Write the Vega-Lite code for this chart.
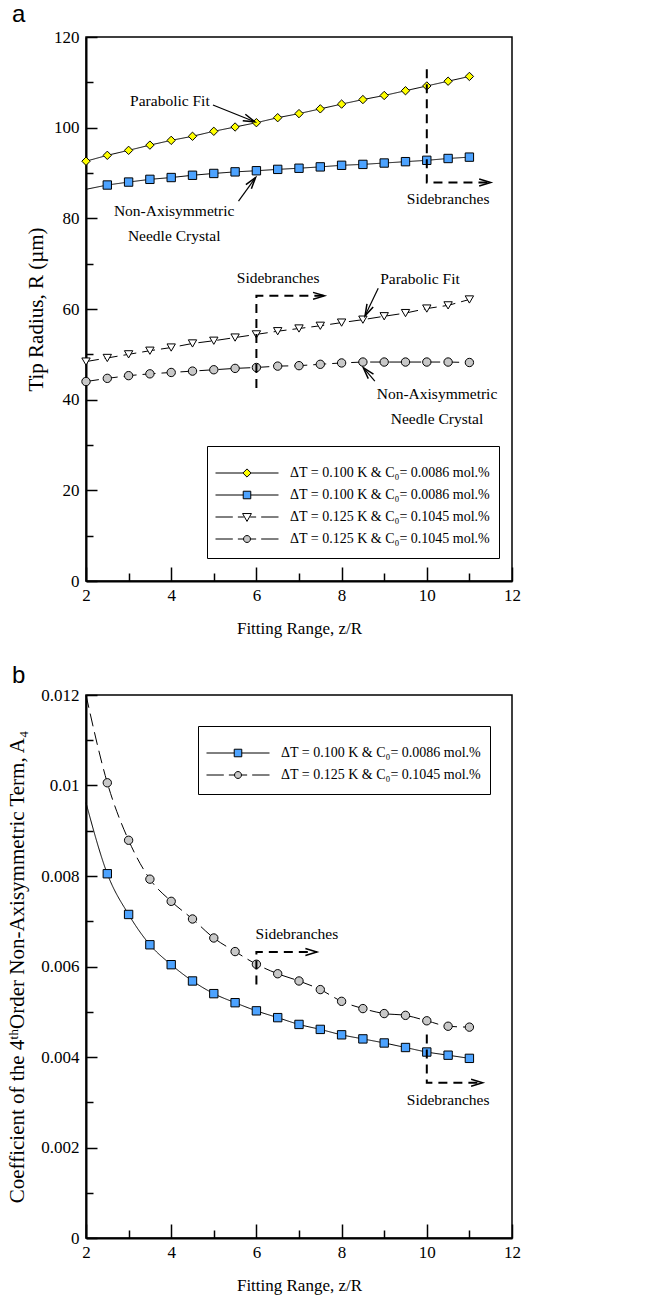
{
  "$schema": "https://vega.github.io/schema/vega-lite/v6.json",
  "background": "white",
  "padding": {"left": 5, "top": 2, "right": 10, "bottom": 10},
  "spacing": 114,
  "bounds": "flush",
  "config": {
    "view": {"stroke": "black", "strokeWidth": 1.5},
    "axis": {
      "grid": false,
      "domainColor": "black", "domainWidth": 2,
      "tickColor": "black", "tickWidth": 1.5,
      "labelFont": "Liberation Serif", "labelFontSize": 17, "labelColor": "black",
      "labelFlush": false, "labelOverlap": false,
      "titleFont": "Liberation Serif", "titleFontSize": 17, "titleFontWeight": "normal", "titleColor": "black"
    },
    "legend": {
      "labelFont": "Liberation Serif", "labelFontSize": 14, "labelColor": "black"
    }
  },
  "resolve": {"scale": {"fill": "independent", "shape": "independent", "stroke": "independent", "strokeDash": "independent"}},
  "datasets": {
    "curvesA": [
      {"x": 2, "y": 92.6, "s": "0.100 K fit"}, {"x": 2.5, "y": 93.9, "s": "0.100 K fit"}, {"x": 3, "y": 95.0, "s": "0.100 K fit"}, {"x": 3.5, "y": 96.15, "s": "0.100 K fit"}, {"x": 4, "y": 97.2, "s": "0.100 K fit"}, {"x": 4.5, "y": 98.1, "s": "0.100 K fit"}, {"x": 5, "y": 99.2, "s": "0.100 K fit"}, {"x": 5.5, "y": 100.15, "s": "0.100 K fit"}, {"x": 6, "y": 101.1, "s": "0.100 K fit"}, {"x": 6.5, "y": 102.2, "s": "0.100 K fit"}, {"x": 7, "y": 103.1, "s": "0.100 K fit"}, {"x": 7.5, "y": 104.15, "s": "0.100 K fit"}, {"x": 8, "y": 105.2, "s": "0.100 K fit"}, {"x": 8.5, "y": 106.2, "s": "0.100 K fit"}, {"x": 9, "y": 107.1, "s": "0.100 K fit"}, {"x": 9.5, "y": 108.15, "s": "0.100 K fit"}, {"x": 10, "y": 109.2, "s": "0.100 K fit"}, {"x": 10.5, "y": 110.25, "s": "0.100 K fit"}, {"x": 11, "y": 111.3, "s": "0.100 K fit"},
      {"x": 2, "y": 86.4, "s": "0.100 K needle"}, {"x": 2.5, "y": 87.35, "s": "0.100 K needle"}, {"x": 3, "y": 88.0, "s": "0.100 K needle"}, {"x": 3.5, "y": 88.6, "s": "0.100 K needle"}, {"x": 4, "y": 89.0, "s": "0.100 K needle"}, {"x": 4.5, "y": 89.5, "s": "0.100 K needle"}, {"x": 5, "y": 89.9, "s": "0.100 K needle"}, {"x": 5.5, "y": 90.25, "s": "0.100 K needle"}, {"x": 6, "y": 90.5, "s": "0.100 K needle"}, {"x": 6.5, "y": 90.8, "s": "0.100 K needle"}, {"x": 7, "y": 91.05, "s": "0.100 K needle"}, {"x": 7.5, "y": 91.35, "s": "0.100 K needle"}, {"x": 8, "y": 91.7, "s": "0.100 K needle"}, {"x": 8.5, "y": 91.9, "s": "0.100 K needle"}, {"x": 9, "y": 92.2, "s": "0.100 K needle"}, {"x": 9.5, "y": 92.5, "s": "0.100 K needle"}, {"x": 10, "y": 92.8, "s": "0.100 K needle"}, {"x": 10.5, "y": 93.2, "s": "0.100 K needle"}, {"x": 11, "y": 93.5, "s": "0.100 K needle"},
      {"x": 2, "y": 48.4, "s": "0.125 K fit"}, {"x": 2.5, "y": 49.2, "s": "0.125 K fit"}, {"x": 3, "y": 50.0, "s": "0.125 K fit"}, {"x": 3.5, "y": 50.8, "s": "0.125 K fit"}, {"x": 4, "y": 51.5, "s": "0.125 K fit"}, {"x": 4.5, "y": 52.4, "s": "0.125 K fit"}, {"x": 5, "y": 53.0, "s": "0.125 K fit"}, {"x": 5.5, "y": 53.7, "s": "0.125 K fit"}, {"x": 6, "y": 54.4, "s": "0.125 K fit"}, {"x": 6.5, "y": 55.1, "s": "0.125 K fit"}, {"x": 7, "y": 55.7, "s": "0.125 K fit"}, {"x": 7.5, "y": 56.3, "s": "0.125 K fit"}, {"x": 8, "y": 57.0, "s": "0.125 K fit"}, {"x": 8.5, "y": 57.65, "s": "0.125 K fit"}, {"x": 9, "y": 58.4, "s": "0.125 K fit"}, {"x": 9.5, "y": 59.1, "s": "0.125 K fit"}, {"x": 10, "y": 60.1, "s": "0.125 K fit"}, {"x": 10.5, "y": 60.8, "s": "0.125 K fit"}, {"x": 11, "y": 62.1, "s": "0.125 K fit"},
      {"x": 2, "y": 44.0, "s": "0.125 K needle"}, {"x": 2.5, "y": 44.7, "s": "0.125 K needle"}, {"x": 3, "y": 45.3, "s": "0.125 K needle"}, {"x": 3.5, "y": 45.7, "s": "0.125 K needle"}, {"x": 4, "y": 46.0, "s": "0.125 K needle"}, {"x": 4.5, "y": 46.3, "s": "0.125 K needle"}, {"x": 5, "y": 46.6, "s": "0.125 K needle"}, {"x": 5.5, "y": 46.9, "s": "0.125 K needle"}, {"x": 6, "y": 47.1, "s": "0.125 K needle"}, {"x": 6.5, "y": 47.4, "s": "0.125 K needle"}, {"x": 7, "y": 47.5, "s": "0.125 K needle"}, {"x": 7.5, "y": 47.8, "s": "0.125 K needle"}, {"x": 8, "y": 48.1, "s": "0.125 K needle"}, {"x": 8.5, "y": 48.3, "s": "0.125 K needle"}, {"x": 9, "y": 48.3, "s": "0.125 K needle"}, {"x": 9.5, "y": 48.3, "s": "0.125 K needle"}, {"x": 10, "y": 48.3, "s": "0.125 K needle"}, {"x": 10.5, "y": 48.3, "s": "0.125 K needle"}, {"x": 11, "y": 48.2, "s": "0.125 K needle"}
    ],
    "sidebranchA": [
      {"g": "right", "o": 1, "x": 10, "y": 112.9}, {"g": "right", "o": 2, "x": 10, "y": 87.9}, {"g": "right", "o": 3, "x": 11.5, "y": 87.9},
      {"g": "middle", "o": 1, "x": 6, "y": 42.6}, {"g": "middle", "o": 2, "x": 6, "y": 62.9}, {"g": "middle", "o": 3, "x": 7.6, "y": 62.9}
    ],
    "arrowsA": [
      {"g": "fitTop", "o": 1, "x": 4.98, "y": 105.0}, {"g": "fitTop", "o": 2, "x": 5.96, "y": 101.3},
      {"g": "needleTop", "o": 1, "x": 5.58, "y": 83.8}, {"g": "needleTop", "o": 2, "x": 5.98, "y": 89.0},
      {"g": "fitLow", "o": 1, "x": 8.86, "y": 64.6}, {"g": "fitLow", "o": 2, "x": 8.55, "y": 58.5},
      {"g": "needleLow", "o": 1, "x": 8.78, "y": 44.1}, {"g": "needleLow", "o": 2, "x": 8.51, "y": 47.05}
    ],
    "headsA": [
      {"x": 5.96, "y": 101.3, "angle": 22}, {"x": 5.98, "y": 89.0, "angle": -53},
      {"x": 8.55, "y": 58.5, "angle": 116}, {"x": 8.51, "y": 47.05, "angle": -131},
      {"x": 11.5, "y": 87.9, "angle": 0}, {"x": 7.6, "y": 62.9, "angle": 0}
    ],
    "textA": [
      {"x": 3.97, "y": 105.9, "text": "Parabolic Fit"},
      {"x": 4.07, "y": 81.6, "text": "Non-Axisymmetric|Needle Crystal"},
      {"x": 10.5, "y": 84.3, "text": "Sidebranches"},
      {"x": 6.51, "y": 66.8, "text": "Sidebranches"},
      {"x": 9.84, "y": 66.6, "text": "Parabolic Fit"},
      {"x": 10.24, "y": 41.3, "text": "Non-Axisymmetric|Needle Crystal"}
    ],
    "curvesB": [
      {"x": 2, "y": 0.00962, "s": "0.100 K"}, {"x": 2.5, "y": 0.00805, "s": "0.100 K"}, {"x": 3, "y": 0.00715, "s": "0.100 K"}, {"x": 3.5, "y": 0.00648, "s": "0.100 K"}, {"x": 4, "y": 0.00604, "s": "0.100 K"}, {"x": 4.5, "y": 0.00568, "s": "0.100 K"}, {"x": 5, "y": 0.0054, "s": "0.100 K"}, {"x": 5.5, "y": 0.0052, "s": "0.100 K"}, {"x": 6, "y": 0.00502, "s": "0.100 K"}, {"x": 6.5, "y": 0.00487, "s": "0.100 K"}, {"x": 7, "y": 0.00472, "s": "0.100 K"}, {"x": 7.5, "y": 0.00461, "s": "0.100 K"}, {"x": 8, "y": 0.00449, "s": "0.100 K"}, {"x": 8.5, "y": 0.0044, "s": "0.100 K"}, {"x": 9, "y": 0.00431, "s": "0.100 K"}, {"x": 9.5, "y": 0.00421, "s": "0.100 K"}, {"x": 10, "y": 0.00411, "s": "0.100 K"}, {"x": 10.5, "y": 0.00404, "s": "0.100 K"}, {"x": 11, "y": 0.00397, "s": "0.100 K"},
      {"x": 2, "y": 0.012, "s": "0.125 K"}, {"x": 2.5, "y": 0.01006, "s": "0.125 K"}, {"x": 3, "y": 0.00879, "s": "0.125 K"}, {"x": 3.5, "y": 0.00793, "s": "0.125 K"}, {"x": 4, "y": 0.00744, "s": "0.125 K"}, {"x": 4.5, "y": 0.00705, "s": "0.125 K"}, {"x": 5, "y": 0.00663, "s": "0.125 K"}, {"x": 5.5, "y": 0.00633, "s": "0.125 K"}, {"x": 6, "y": 0.00605, "s": "0.125 K"}, {"x": 6.5, "y": 0.00584, "s": "0.125 K"}, {"x": 7, "y": 0.00568, "s": "0.125 K"}, {"x": 7.5, "y": 0.00549, "s": "0.125 K"}, {"x": 8, "y": 0.00523, "s": "0.125 K"}, {"x": 8.5, "y": 0.00507, "s": "0.125 K"}, {"x": 9, "y": 0.00496, "s": "0.125 K"}, {"x": 9.5, "y": 0.00492, "s": "0.125 K"}, {"x": 10, "y": 0.0048, "s": "0.125 K"}, {"x": 10.5, "y": 0.00468, "s": "0.125 K"}, {"x": 11, "y": 0.00466, "s": "0.125 K"}
    ],
    "sidebranchB": [
      {"g": "middle", "o": 1, "x": 6, "y": 0.0056}, {"g": "middle", "o": 2, "x": 6, "y": 0.00632}, {"g": "middle", "o": 3, "x": 7.42, "y": 0.00632},
      {"g": "right", "o": 1, "x": 10, "y": 0.0045}, {"g": "right", "o": 2, "x": 10, "y": 0.00343}, {"g": "right", "o": 3, "x": 11.31, "y": 0.00343}
    ],
    "headsB": [
      {"x": 7.42, "y": 0.00632, "angle": 0}, {"x": 11.31, "y": 0.00343, "angle": 0}
    ],
    "textB": [
      {"x": 6.95, "y": 0.00672, "text": "Sidebranches"},
      {"x": 10.5, "y": 0.00306, "text": "Sidebranches"}
    ]
  },
  "vconcat": [
    {
      "width": 426,
      "height": 544,
      "title": {"text": "a", "anchor": "start", "frame": "group", "dx": -74, "offset": -18, "baseline": "alphabetic", "font": "Liberation Sans", "fontSize": 24, "fontWeight": "normal", "color": "black"},
      "resolve": {"scale": {"shape": "independent", "fill": "independent", "stroke": "independent"}, "axis": {"x": "independent", "y": "independent"}},
      "layer": [
        {
          "data": {"name": "curvesA"},
          "mark": {"type": "line", "stroke": "black", "strokeWidth": 1},
          "encoding": {
            "x": {"field": "x", "type": "quantitative", "scale": {"domain": [2, 12], "nice": false, "zero": false},
                  "axis": {"orient": "bottom", "values": [2, 4, 6, 8, 10, 12], "tickSize": -14, "labelPadding": 20, "title": "Fitting Range, z/R", "titlePadding": 17}},
            "y": {"field": "y", "type": "quantitative", "scale": {"domain": [0, 120], "nice": false, "zero": false},
                  "axis": {"orient": "left", "values": [0, 20, 40, 60, 80, 100, 120], "tickSize": -11, "labelPadding": 18, "title": "Tip Radius, R (µm)", "titleFontSize": 21, "titlePadding": 7}},
            "strokeDash": {"field": "s", "type": "nominal",
                  "scale": {"domain": ["0.100 K fit", "0.100 K needle", "0.125 K fit", "0.125 K needle"], "range": [[1, 0], [1, 0], [13, 6], [13, 6]]}, "legend": null}
          }
        },
        {
          "data": {"name": "curvesA"},
          "transform": [{"filter": "datum.x > 2 || datum.s != '0.100 K needle'"}],
          "mark": {"type": "point", "filled": true, "opacity": 1, "stroke": "black", "strokeWidth": 1, "size": 70},
          "encoding": {
            "x": {"field": "x", "type": "quantitative", "scale": {"domain": [2, 12], "nice": false, "zero": false},
                  "axis": {"orient": "bottom", "values": [3, 5, 7, 9, 11], "tickSize": -8, "labels": false, "domain": false, "title": null}},
            "y": {"field": "y", "type": "quantitative", "scale": {"domain": [0, 120], "nice": false, "zero": false},
                  "axis": {"orient": "left", "values": [10, 30, 50, 70, 90, 110], "tickSize": -7, "labels": false, "domain": false, "title": null}},
            "shape": {"field": "s", "type": "nominal",
                  "scale": {"domain": ["0.100 K fit", "0.100 K needle", "0.125 K fit", "0.125 K needle"], "range": ["diamond", "square", "triangle-down", "circle"]}, "legend": null},
            "fill": {"field": "s", "type": "nominal",
                  "scale": {"domain": ["0.100 K fit", "0.100 K needle", "0.125 K fit", "0.125 K needle"], "range": ["#ffff00", "#4da3ff", "#ffffff", "#c8c8c8"]}, "legend": null}
          }
        },
        {
          "data": {"name": "sidebranchA"},
          "mark": {"type": "line", "stroke": "black", "strokeWidth": 2, "strokeDash": [9, 6]},
          "encoding": {
            "x": {"field": "x", "type": "quantitative", "scale": {"domain": [2, 12], "nice": false, "zero": false}, "axis": null},
            "y": {"field": "y", "type": "quantitative", "scale": {"domain": [0, 120], "nice": false, "zero": false}, "axis": null},
            "detail": {"field": "g"},
            "order": {"field": "o", "type": "quantitative"}
          }
        },
        {
          "data": {"name": "arrowsA"},
          "mark": {"type": "line", "stroke": "black", "strokeWidth": 1.2},
          "encoding": {
            "x": {"field": "x", "type": "quantitative", "scale": {"domain": [2, 12], "nice": false, "zero": false}, "axis": null},
            "y": {"field": "y", "type": "quantitative", "scale": {"domain": [0, 120], "nice": false, "zero": false}, "axis": null},
            "detail": {"field": "g"},
            "order": {"field": "o", "type": "quantitative"}
          }
        },
        {
          "data": {"name": "headsA"},
          "mark": {"type": "point", "shape": "M-1,-0.3L0,0L-1,0.3", "filled": false, "opacity": 1, "stroke": "black", "strokeWidth": 1.5, "size": 529},
          "encoding": {
            "x": {"field": "x", "type": "quantitative", "scale": {"domain": [2, 12], "nice": false, "zero": false}, "axis": null},
            "y": {"field": "y", "type": "quantitative", "scale": {"domain": [0, 120], "nice": false, "zero": false}, "axis": null},
            "angle": {"field": "angle", "type": "quantitative", "scale": null}
          }
        },
        {
          "data": {"name": "textA"},
          "mark": {"type": "text", "font": "Liberation Serif", "fontSize": 15.5, "color": "black", "align": "center", "baseline": "middle", "lineBreak": "|", "lineHeight": 25},
          "encoding": {
            "x": {"field": "x", "type": "quantitative", "scale": {"domain": [2, 12], "nice": false, "zero": false}, "axis": null},
            "y": {"field": "y", "type": "quantitative", "scale": {"domain": [0, 120], "nice": false, "zero": false}, "axis": null},
            "text": {"field": "text"}
          }
        },
        {
          "data": {"name": "curvesA"},
          "mark": {"type": "point", "filled": true, "opacity": 0, "strokeWidth": 1},
          "encoding": {
            "x": {"field": "x", "type": "quantitative", "scale": {"domain": [2, 12], "nice": false, "zero": false}, "axis": null},
            "y": {"field": "y", "type": "quantitative", "scale": {"domain": [0, 120], "nice": false, "zero": false}, "axis": null},
            "shape": {"field": "s", "type": "nominal",
              "scale": {"domain": ["0.100 K fit", "0.100 K needle", "0.125 K fit", "0.125 K needle"],
                        "range": [
                          "M-1,0H-0.13M0.13,0H1M0,-0.13L0.13,0L0,0.13L-0.13,0Z",
                          "M-1,0H-0.12M0.12,0H1M-0.12,-0.12H0.12V0.12H-0.12Z",
                          "M-1,0H-0.45M-0.29,0H-0.1M0.1,0H0.29M0.45,0H1M-0.14,-0.11H0.14L0,0.14Z",
                          "M-1,0H-0.45M-0.29,0H-0.11M0.11,0H0.29M0.45,0H1M-0.11,0A0.11,0.11,0,1,0,0.11,0A0.11,0.11,0,1,0,-0.11,0Z"
                        ]},
              "legend": {"title": " ", "orient": "none", "legendX": 121, "legendY": 409, "symbolSize": 3969, "clipHeight": 22, "rowPadding": 0, "labelOffset": 11, "labelLimit": 400,
                         "labelExpr": "indexof(datum.value, '0.100') >= 0 ? 'ΔT = 0.100 K & C₀= 0.0086 mol.%' : 'ΔT = 0.125 K & C₀= 0.1045 mol.%'",
                         "strokeColor": "black", "fillColor": "white", "padding": 8, "titleFontSize": 5, "titlePadding": 3, "symbolOpacity": 1, "symbolStrokeWidth": 1}},
            "fill": {"field": "s", "type": "nominal",
              "scale": {"domain": ["0.100 K fit", "0.100 K needle", "0.125 K fit", "0.125 K needle"], "range": ["#ffff00", "#4da3ff", "#ffffff", "#c8c8c8"]},
              "legend": {"title": " ", "orient": "none", "legendX": 121, "legendY": 409, "symbolSize": 3969, "clipHeight": 22, "rowPadding": 0, "labelOffset": 11, "labelLimit": 400,
                         "labelExpr": "indexof(datum.value, '0.100') >= 0 ? 'ΔT = 0.100 K & C₀= 0.0086 mol.%' : 'ΔT = 0.125 K & C₀= 0.1045 mol.%'",
                         "strokeColor": "black", "fillColor": "white", "padding": 8, "titleFontSize": 5, "titlePadding": 3, "symbolOpacity": 1, "symbolStrokeWidth": 1}},
            "stroke": {"field": "s", "type": "nominal",
              "scale": {"domain": ["0.100 K fit", "0.100 K needle", "0.125 K fit", "0.125 K needle"], "range": ["black", "black", "black", "black"]},
              "legend": {"title": " ", "orient": "none", "legendX": 121, "legendY": 409, "symbolSize": 3969, "clipHeight": 22, "rowPadding": 0, "labelOffset": 11, "labelLimit": 400,
                         "labelExpr": "indexof(datum.value, '0.100') >= 0 ? 'ΔT = 0.100 K & C₀= 0.0086 mol.%' : 'ΔT = 0.125 K & C₀= 0.1045 mol.%'",
                         "strokeColor": "black", "fillColor": "white", "padding": 8, "titleFontSize": 5, "titlePadding": 3, "symbolOpacity": 1, "symbolStrokeWidth": 1}}
          }
        }
      ]
    },
    {
      "width": 426,
      "height": 543,
      "title": {"text": "b", "anchor": "start", "frame": "group", "dx": -74, "offset": -21, "baseline": "alphabetic", "font": "Liberation Sans", "fontSize": 24, "fontWeight": "normal", "color": "black"},
      "resolve": {"scale": {"shape": "independent", "fill": "independent", "stroke": "independent"}, "axis": {"x": "independent", "y": "independent"}},
      "layer": [
        {
          "data": {"name": "curvesB"},
          "mark": {"type": "line", "stroke": "black", "strokeWidth": 1, "interpolate": "monotone"},
          "encoding": {
            "x": {"field": "x", "type": "quantitative", "scale": {"domain": [2, 12], "nice": false, "zero": false},
                  "axis": {"orient": "bottom", "values": [2, 4, 6, 8, 10, 12], "tickSize": -14, "labelPadding": 20, "title": "Fitting Range, z/R", "titlePadding": 17}},
            "y": {"field": "y", "type": "quantitative", "scale": {"domain": [0, 0.012], "nice": false, "zero": false},
                  "axis": {"orient": "left", "values": [0, 0.002, 0.004, 0.006, 0.008, 0.01, 0.012], "format": "~g", "tickSize": -11, "labelPadding": 18, "title": "Coefficient of the 4ᵗʰOrder Non-Axisymmetric Term, A₄", "titleFontSize": 21, "titlePadding": 13}},
            "strokeDash": {"field": "s", "type": "nominal",
                  "scale": {"domain": ["0.100 K", "0.125 K"], "range": [[1, 0], [13, 6]]}, "legend": null}
          }
        },
        {
          "data": {"name": "curvesB"},
          "transform": [{"filter": "datum.x > 2"}],
          "mark": {"type": "point", "filled": true, "opacity": 1, "stroke": "black", "strokeWidth": 1, "size": 70},
          "encoding": {
            "x": {"field": "x", "type": "quantitative", "scale": {"domain": [2, 12], "nice": false, "zero": false},
                  "axis": {"orient": "bottom", "values": [3, 5, 7, 9, 11], "tickSize": -8, "labels": false, "domain": false, "title": null}},
            "y": {"field": "y", "type": "quantitative", "scale": {"domain": [0, 0.012], "nice": false, "zero": false},
                  "axis": {"orient": "left", "values": [0.001, 0.003, 0.005, 0.007, 0.009, 0.011], "tickSize": -7, "labels": false, "domain": false, "title": null}},
            "shape": {"field": "s", "type": "nominal",
                  "scale": {"domain": ["0.100 K", "0.125 K"], "range": ["square", "circle"]}, "legend": null},
            "fill": {"field": "s", "type": "nominal",
                  "scale": {"domain": ["0.100 K", "0.125 K"], "range": ["#4da3ff", "#c8c8c8"]}, "legend": null}
          }
        },
        {
          "data": {"name": "sidebranchB"},
          "mark": {"type": "line", "stroke": "black", "strokeWidth": 2, "strokeDash": [9, 6]},
          "encoding": {
            "x": {"field": "x", "type": "quantitative", "scale": {"domain": [2, 12], "nice": false, "zero": false}, "axis": null},
            "y": {"field": "y", "type": "quantitative", "scale": {"domain": [0, 0.012], "nice": false, "zero": false}, "axis": null},
            "detail": {"field": "g"},
            "order": {"field": "o", "type": "quantitative"}
          }
        },
        {
          "data": {"name": "headsB"},
          "mark": {"type": "point", "shape": "M-1,-0.3L0,0L-1,0.3", "filled": false, "opacity": 1, "stroke": "black", "strokeWidth": 1.5, "size": 529},
          "encoding": {
            "x": {"field": "x", "type": "quantitative", "scale": {"domain": [2, 12], "nice": false, "zero": false}, "axis": null},
            "y": {"field": "y", "type": "quantitative", "scale": {"domain": [0, 0.012], "nice": false, "zero": false}, "axis": null},
            "angle": {"field": "angle", "type": "quantitative", "scale": null}
          }
        },
        {
          "data": {"name": "textB"},
          "mark": {"type": "text", "font": "Liberation Serif", "fontSize": 15.5, "color": "black", "align": "center", "baseline": "middle"},
          "encoding": {
            "x": {"field": "x", "type": "quantitative", "scale": {"domain": [2, 12], "nice": false, "zero": false}, "axis": null},
            "y": {"field": "y", "type": "quantitative", "scale": {"domain": [0, 0.012], "nice": false, "zero": false}, "axis": null},
            "text": {"field": "text"}
          }
        },
        {
          "data": {"name": "curvesB"},
          "mark": {"type": "point", "filled": true, "opacity": 0, "strokeWidth": 1},
          "encoding": {
            "x": {"field": "x", "type": "quantitative", "scale": {"domain": [2, 12], "nice": false, "zero": false}, "axis": null},
            "y": {"field": "y", "type": "quantitative", "scale": {"domain": [0, 0.012], "nice": false, "zero": false}, "axis": null},
            "shape": {"field": "s", "type": "nominal",
              "scale": {"domain": ["0.100 K", "0.125 K"],
                        "range": [
                          "M-1,0H-0.12M0.12,0H1M-0.12,-0.12H0.12V0.12H-0.12Z",
                          "M-1,0H-0.45M-0.29,0H-0.11M0.11,0H0.29M0.45,0H1M-0.11,0A0.11,0.11,0,1,0,0.11,0A0.11,0.11,0,1,0,-0.11,0Z"
                        ]},
              "legend": {"title": " ", "orient": "none", "legendX": 112, "legendY": 31, "symbolSize": 3969, "clipHeight": 22, "rowPadding": 0, "labelOffset": 11, "labelLimit": 400,
                         "labelExpr": "indexof(datum.value, '0.100') >= 0 ? 'ΔT = 0.100 K & C₀= 0.0086 mol.%' : 'ΔT = 0.125 K & C₀= 0.1045 mol.%'",
                         "strokeColor": "black", "fillColor": "white", "padding": 8, "titleFontSize": 5, "titlePadding": 3, "symbolOpacity": 1, "symbolStrokeWidth": 1}},
            "fill": {"field": "s", "type": "nominal",
              "scale": {"domain": ["0.100 K", "0.125 K"], "range": ["#4da3ff", "#c8c8c8"]},
              "legend": {"title": " ", "orient": "none", "legendX": 112, "legendY": 31, "symbolSize": 3969, "clipHeight": 22, "rowPadding": 0, "labelOffset": 11, "labelLimit": 400,
                         "labelExpr": "indexof(datum.value, '0.100') >= 0 ? 'ΔT = 0.100 K & C₀= 0.0086 mol.%' : 'ΔT = 0.125 K & C₀= 0.1045 mol.%'",
                         "strokeColor": "black", "fillColor": "white", "padding": 8, "titleFontSize": 5, "titlePadding": 3, "symbolOpacity": 1, "symbolStrokeWidth": 1}},
            "stroke": {"field": "s", "type": "nominal",
              "scale": {"domain": ["0.100 K", "0.125 K"], "range": ["black", "black"]},
              "legend": {"title": " ", "orient": "none", "legendX": 112, "legendY": 31, "symbolSize": 3969, "clipHeight": 22, "rowPadding": 0, "labelOffset": 11, "labelLimit": 400,
                         "labelExpr": "indexof(datum.value, '0.100') >= 0 ? 'ΔT = 0.100 K & C₀= 0.0086 mol.%' : 'ΔT = 0.125 K & C₀= 0.1045 mol.%'",
                         "strokeColor": "black", "fillColor": "white", "padding": 8, "titleFontSize": 5, "titlePadding": 3, "symbolOpacity": 1, "symbolStrokeWidth": 1}}
          }
        }
      ]
    }
  ]
}
